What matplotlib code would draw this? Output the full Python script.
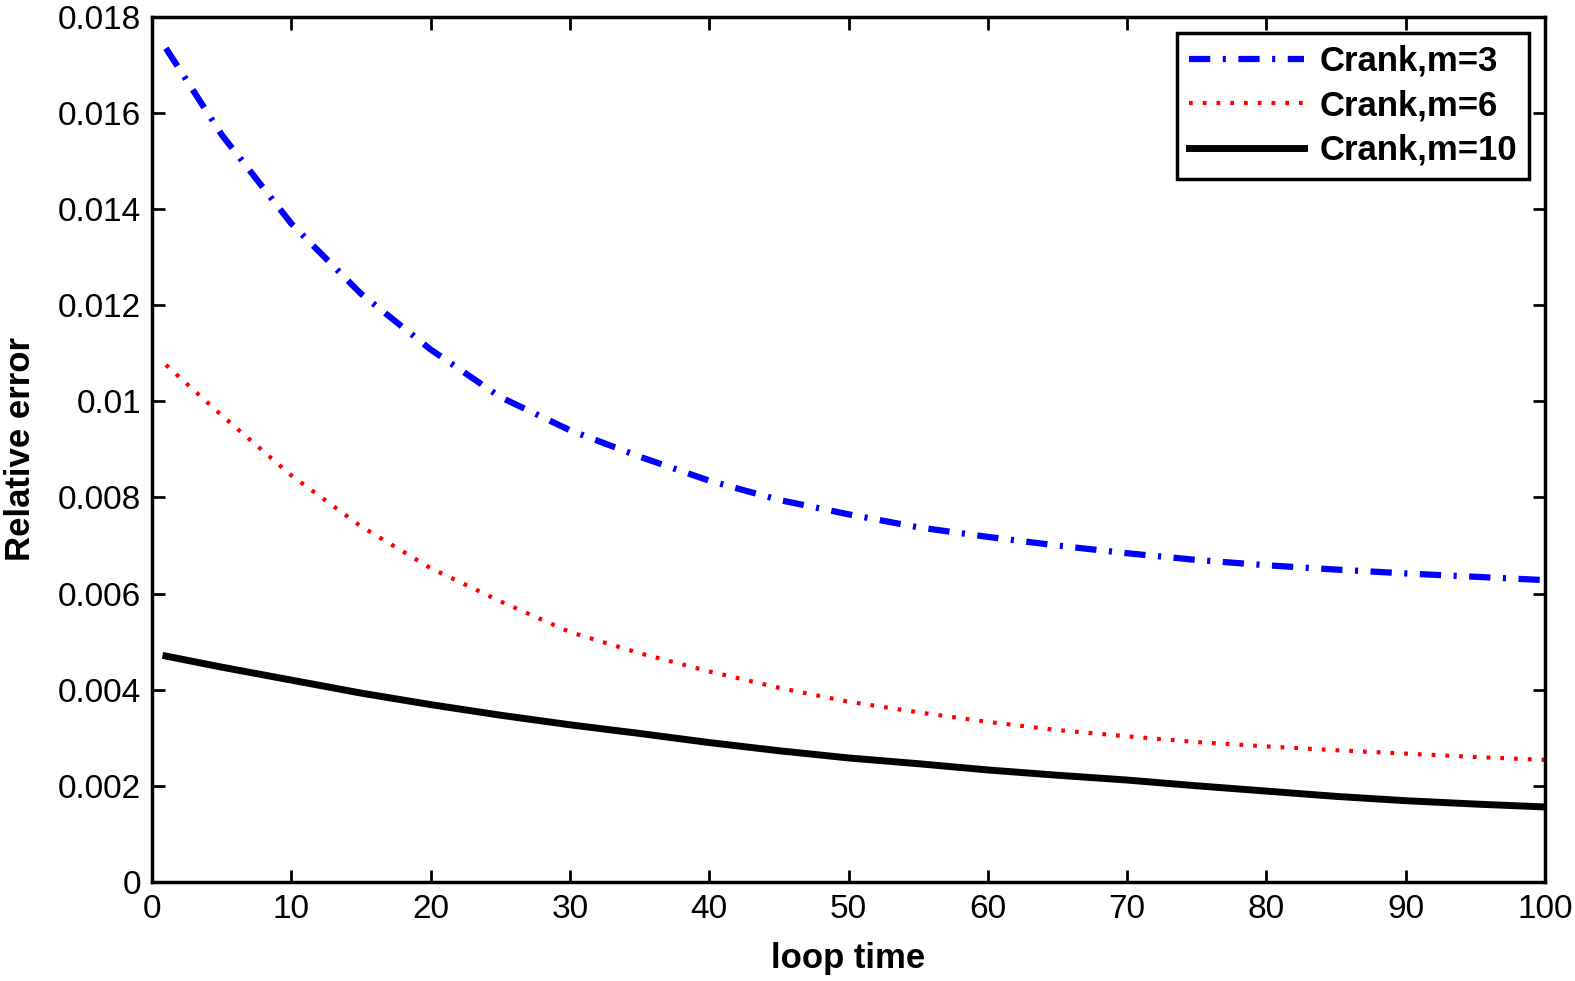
import matplotlib
matplotlib.use("Agg")
import matplotlib.pyplot as plt
from matplotlib.ticker import FuncFormatter

# values
loops = [1, 5, 10, 15, 20, 25, 30, 35, 40, 45, 50, 55, 60, 65, 70, 75, 80, 85, 90, 95, 100]
err_m3 = [0.01735, 0.01555, 0.01370, 0.01224, 0.01108, 0.01009, 0.00940, 0.00885, 0.00835, 0.00795, 0.00765,
          0.00738, 0.00718, 0.00700, 0.00684, 0.00670, 0.00659, 0.00650, 0.00642, 0.00635, 0.00628]
err_m6 = [0.01076, 0.00971, 0.00846, 0.00740, 0.00653, 0.00584, 0.00520, 0.00476, 0.00438, 0.00404, 0.00375,
          0.00353, 0.00333, 0.00316, 0.00303, 0.00291, 0.00282, 0.00274, 0.00267, 0.00260, 0.00254]
err_m10 = [0.00470, 0.00447, 0.00420, 0.00393, 0.00369, 0.00347, 0.00327, 0.00309, 0.00290, 0.00273, 0.00258,
           0.00246, 0.00233, 0.00222, 0.00212, 0.00200, 0.00189, 0.00178, 0.00169, 0.00162, 0.00156]
labels = ["Crank,m=3", "Crank,m=6", "Crank,m=10"]

plt.rcParams['font.family'] = ['Liberation Sans', 'DejaVu Sans']

fig = plt.figure(figsize=(15.75, 9.81), dpi=100)
ax = fig.add_axes([0.0965, 0.101, 0.8845, 0.8817])

ax.plot(loops, err_m3, color='#0000ff', lw=4.5, linestyle=(0, (3.4, 2.0, 0.5, 2.0)), label=labels[0])
ax.plot(loops, err_m6, color='#ff0000', lw=3, linestyle=(0, (0.9, 2.4)), label=labels[1])
ax.plot(loops, err_m10, color='black', lw=5, linestyle='-', label=labels[2])

ax.set_xlim(0, 100)
ax.set_ylim(0, 0.018)
ax.set_xticks(range(0, 101, 10))
ax.set_yticks([i * 0.002 for i in range(10)])
ax.yaxis.set_major_formatter(FuncFormatter(lambda v, p: "%g" % round(v, 4)))

ax.tick_params(direction='in', length=9, width=2, labelsize=24, top=True, right=True)
ax.tick_params(axis='x', pad=9)
ax.tick_params(axis='y', pad=8)
for sp in ax.spines.values():
    sp.set_linewidth(2.5)

ax.set_xlabel("loop time", fontsize=25, fontweight='bold', labelpad=12)
ax.set_ylabel("Relative error", fontsize=25, fontweight='bold', labelpad=15)

leg = ax.legend(loc='upper right', prop={'weight': 'bold', 'size': 25},
                handlelength=3.3, handletextpad=0.45, borderpad=0.35, labelspacing=0.33,
                fancybox=False, framealpha=1, edgecolor='black', borderaxespad=0.45)
leg.get_frame().set_linewidth(2.5)

fig.savefig("out.png", dpi=100)
